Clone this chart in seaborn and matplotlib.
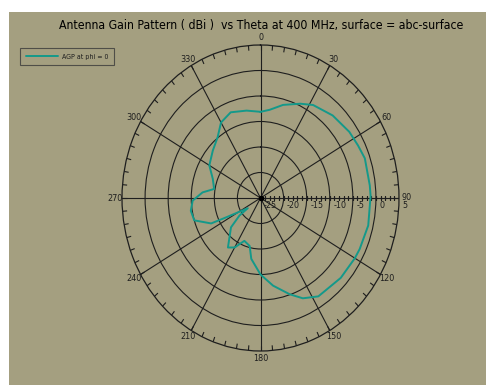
import numpy as np
import pandas as pd
import matplotlib
matplotlib.use("Agg")
import matplotlib.pyplot as plt
from matplotlib.patches import Rectangle
import seaborn as sns

# Antenna gain pattern (dBi) sampled against theta (degrees)
theta_deg = [0, 6.5, 15, 25, 32, 44, 56, 64, 71, 84, 89, 103, 115, 120, 132,
             147, 155, 161.5, 171, 180, 189.5, 194, 202.6, 210, 216, 228, 233,
             234, 243, 245, 253, 260.6, 268, 275, 280, 290, 300, 312, 322, 330,
             339, 350, 360]
gain_dbi = [-8.1, -7.6, -6.1, -4.6, -3.5, -2.5, -1.8, -1.5, -1.1, -1.2, -1.15,
            -1.05, -1.3, -1.4, -1.6, -2.0, -3.3, -5.1, -7.6, -10.0, -12.9, -15.3,
            -15.9, -13.8, -13.0, -16.4, -19.3, -21.6, -16.6, -13.2, -10.0, -9.7,
            -10.3, -12.4, -14.8, -14.0, -12.2, -11.1, -9.9, -7.9, -7.0, -7.6, -8.1]

angle_ticks = list(range(0, 360, 30))
angle_labels = [str(a) for a in angle_ticks]
ring_values = [-20, -15, -10, -5, 0]
radial_labels = ["-25", "-20", "-15", "-10", "-5", "0", "5"]
radial_label_values = [-25, -20, -15, -10, -5, 0, 5]
r_min, r_max = -25, 5

title = "Antenna Gain Pattern ( dBi )  vs Theta at 400 MHz, surface = abc-surface"
series_name = "AGP at phi = 0"

olive = "#a49f80"
ink = "#1e1e1e"
teal = "#14998a"

sns.set_theme(style="white")
plt.rcParams["font.family"] = ["DejaVu Sans"]
plt.rcParams["font.stretch"] = "condensed"

fig = plt.figure(figsize=(4.86, 3.85), dpi=100)
fig.patch.set_facecolor("white")
fig.patches.append(Rectangle((9 / 486, 0), 1 - 9 / 486, 1 - 12 / 385,
                             transform=fig.transFigure, facecolor=olive,
                             edgecolor="none", zorder=-10))

ax = fig.add_axes([122 / 486, 34 / 385, 277 / 486, 306 / 385], projection="polar")
ax.set_aspect("auto")
ax.set_facecolor("none")
ax.set_theta_zero_location("N")
ax.set_theta_direction(-1)
ax.set_ylim(r_min, r_max)

df = pd.DataFrame({"theta": np.deg2rad(theta_deg), "gain": gain_dbi})
sns.lineplot(data=df, x="theta", y="gain", ax=ax, sort=False, estimator=None,
             color=teal, linewidth=1.4, label=series_name, zorder=5)
ax.set_xlabel("")
ax.set_ylabel("")

# grid: spokes every 30 degrees, rings every 5 dB
ax.set_xticks(np.deg2rad(angle_ticks))
ax.set_xticklabels([])
ax.set_yticks(ring_values)
ax.set_yticklabels([])
ax.grid(True, color=ink, linewidth=0.8, linestyle="-")
ax.spines["polar"].set_color(ink)
ax.spines["polar"].set_linewidth(0.9)

# angle labels just outside the outer circle
for ang, lab in zip(angle_ticks, angle_labels):
    a = np.deg2rad(ang)
    ax.annotate(lab, xy=(a, r_max), xytext=(5.3 * np.sin(a), 5.3 * np.cos(a)),
                textcoords="offset points", ha="center", va="center",
                fontsize=6.5, color=ink, annotation_clip=False)

# tick marks every 5 degrees on the outer circle
minor = np.deg2rad(np.arange(0, 360, 5))
ax.vlines(minor, r_max - 1.0, r_max, colors=ink, linewidth=0.8)

# dense 1 dB ticks along the 90 degree spoke
r_ticks = np.arange(r_min, r_max + 1, 1)
ax.plot(np.full(r_ticks.shape, np.pi / 2), r_ticks, linestyle="none",
        marker="|", markersize=3.5, markeredgewidth=0.9, color=ink)
ax.plot([0], [r_min], marker="o", markersize=3, color="black")

for val, lab in zip(radial_label_values, radial_labels):
    ax.annotate(lab, xy=(np.pi / 2, val), xytext=(2.5, -2.5), textcoords="offset points",
                ha="left", va="top", fontsize=6.5, color=ink, annotation_clip=False)

fig.text(261 / 486, 1 - 25 / 385, title, ha="center", va="center",
         fontsize=8.8, color="black")

leg = ax.legend(loc="upper left", bbox_to_anchor=(20 / 486, 1 - 48 / 385),
                bbox_transform=fig.transFigure, fontsize=5, frameon=True,
                fancybox=False, handlelength=4.6, borderpad=0.8,
                borderaxespad=0, handletextpad=0.6)
leg.get_frame().set_facecolor("none")
leg.get_frame().set_edgecolor("#3a3a3a")
leg.get_frame().set_linewidth(0.8)
for t in leg.get_texts():
    t.set_color(ink)

fig.savefig("out.png", dpi=100, facecolor=fig.get_facecolor())
